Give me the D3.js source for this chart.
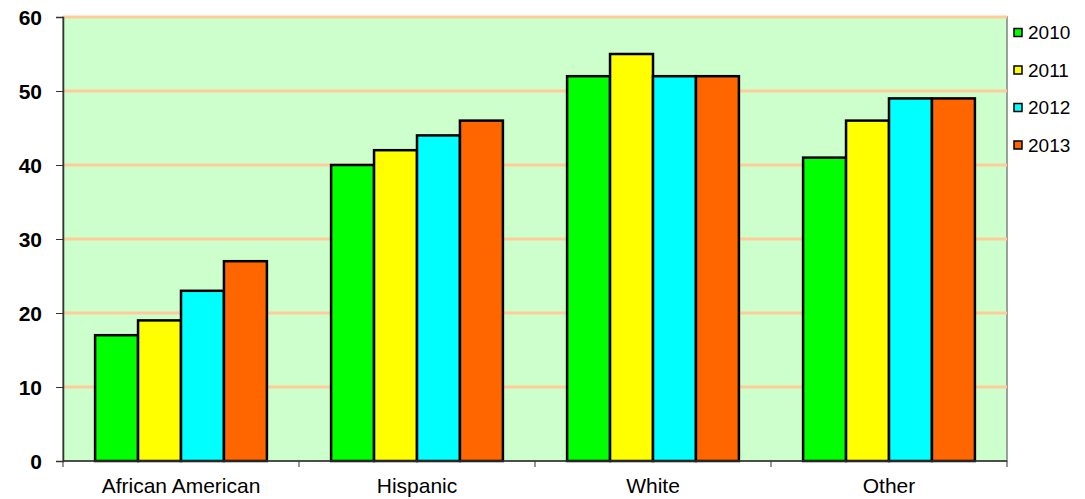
<!DOCTYPE html>
<html><head><meta charset="utf-8">
<script src="https://cdn.jsdelivr.net/npm/d3@7"></script>
<style>body{margin:0;background:#fff}svg{display:block}</style>
</head><body>
<svg id="c" width="1085" height="499"></svg>
<script>
const categories = ["African American", "Hispanic", "White", "Other"];
const seriesNames = ["2010", "2011", "2012", "2013"];
const v2010 = [17, 40, 52, 41];
const v2011 = [19, 42, 55, 46];
const v2012 = [23, 44, 52, 49];
const v2013 = [27, 46, 52, 49];
const yTicks = [0, 10, 20, 30, 40, 50, 60];
const colors = ["#00FF00", "#FFFF00", "#00FFFF", "#FF6600"];
const seriesValues = [v2010, v2011, v2012, v2013];

const svg = d3.select("#c");
const L = 63, R = 1007, T = 17, B = 461;
const x = d3.scaleBand().domain(categories).range([L, R]).paddingInner(0).paddingOuter(0);
const bw = x.bandwidth();
const xi = d3.scaleBand().domain(seriesNames).range([bw * 0.136, bw * 0.864]).padding(0);
const y = d3.scaleLinear().domain([0, 60]).range([B, T]);

svg.append("rect").attr("x", L).attr("y", T).attr("width", R - L).attr("height", B - T)
  .attr("fill", "#CCFFCC").attr("stroke", "#808080").attr("stroke-width", 1.5);

svg.append("g").selectAll("line").data(yTicks.filter(d => d > 0)).join("line")
  .attr("x1", L).attr("x2", R).attr("y1", d => y(d)).attr("y2", d => y(d))
  .attr("stroke", "#FFCC99").attr("stroke-width", 3);

const groups = svg.append("g").selectAll("g").data(categories).join("g")
  .attr("transform", d => `translate(${x(d)},0)`);
groups.selectAll("rect").data((c, ci) => seriesNames.map((s, si) => ({s, v: seriesValues[si][ci], i: si})))
  .join("rect")
  .attr("x", d => xi(d.s)).attr("width", xi.bandwidth())
  .attr("y", d => y(d.v)).attr("height", d => B - y(d.v))
  .attr("fill", d => colors[d.i]).attr("stroke", "#000").attr("stroke-width", 2.5);

const yAxis = d3.axisLeft(y).tickValues(yTicks).tickSize(7).tickPadding(14);
const ya = svg.append("g").attr("transform", `translate(${L},0)`).call(yAxis);
ya.select(".domain").attr("stroke", "#333").attr("stroke-width", 1.5);
ya.selectAll(".tick line").attr("stroke", "#333");
ya.selectAll("text").attr("font-family", "Liberation Sans, Arial, sans-serif").attr("font-size", 21)
  .attr("font-weight", "bold").attr("fill", "#000").attr("dy", "0.35em");

const xa = svg.append("g").attr("transform", `translate(0,${B})`)
  .call(d3.axisBottom(x).tickSize(0).tickPadding(0));
xa.select(".domain").remove();
xa.selectAll("text").attr("y", 32).attr("dy", 0)
  .attr("font-family", "Liberation Sans, Arial, sans-serif").attr("font-size", 21).attr("fill", "#000");
svg.append("line").attr("x1", L).attr("x2", R).attr("y1", B).attr("y2", B).attr("stroke", "#333").attr("stroke-width", 1.5);
const bounds = categories.map(c => x(c)).concat([R]);
svg.append("g").selectAll("line").data(bounds).join("line")
  .attr("x1", d => d).attr("x2", d => d).attr("y1", B).attr("y2", B + 6).attr("stroke", "#333");

const leg = svg.append("g").selectAll("g").data(seriesNames).join("g")
  .attr("transform", (d, i) => `translate(1014,${32.5 + i * 37.5})`);
leg.append("rect").attr("x", 0).attr("y", -4).attr("width", 8).attr("height", 8)
  .attr("fill", (d, i) => colors[i]).attr("stroke", "#000").attr("stroke-width", 1.5);
leg.append("text").attr("x", 14).attr("dy", "0.36em").text(d => d)
  .attr("font-family", "Liberation Sans, Arial, sans-serif").attr("font-size", 19).attr("fill", "#000");
</script>
</body></html>
